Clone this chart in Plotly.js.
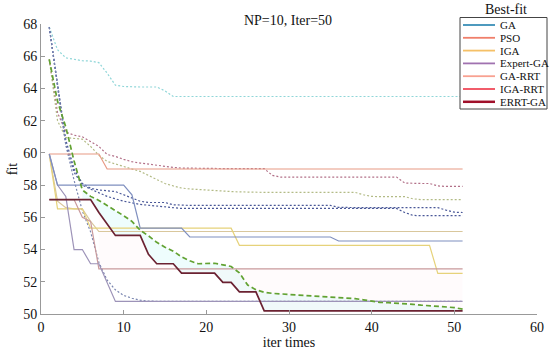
<!DOCTYPE html>
<html><head><meta charset="utf-8">
<script src="https://cdn.plot.ly/plotly-3.0.1.min.js"></script>
<style>html,body{margin:0;padding:0;background:#fff}#c{width:550px;height:350px}</style>
</head><body><div id="c"></div>
<script>
// ---- data ----
const iter = [1,2,3,4,5,6,7,8,9,10,11,12,13,14,15,16,17,18,19,20,21,22,23,24,25,26,27,28,29,30,31,32,33,34,35,36,37,38,39,40,41,42,43,44,45,46,47,48,49,50,51];

// dotted / dashed (mean) curves
const cyanMean = [67.81,66.4,65.9,65.8,65.72,65.7,65.6,64.95,64.2,64.12,64.09,64.09,64.09,64.09,63.85,63.5,63.5,63.5,63.5,63.5,63.5,63.5,63.5,63.5,63.5,63.5,63.5,63.5,63.5,63.5,63.5,63.5,63.5,63.5,63.5,63.5,63.5,63.5,63.5,63.5,63.5,63.5,63.5,63.5,63.5,63.5,63.5,63.5,63.5,63.5,63.5];
const roseMean = [65.8,62.5,61.3,61.1,61.0,60.7,60.4,59.9,59.78,59.6,59.45,59.37,59.3,59.22,59.15,59.1,59.06,59.05,59.02,59.02,59.02,59.02,59.02,59.02,59.02,59.02,59.02,58.6,58.5,58.5,58.5,58.5,58.5,58.5,58.5,58.5,58.5,58.5,58.5,58.5,58.5,58.5,58.5,58.13,58.1,58.1,58.1,57.95,57.92,57.92,57.92];
const oliveMean = [65.8,62.0,60.95,60.9,60.85,60.4,59.85,59.47,59.3,59.15,59.0,58.85,58.6,58.35,58.1,57.95,57.82,57.76,57.72,57.68,57.65,57.62,57.6,57.58,57.56,57.55,57.55,57.55,57.55,57.55,57.55,57.55,57.55,57.55,57.55,57.55,57.55,57.55,57.4,57.3,57.28,57.28,57.28,57.28,57.15,57.1,57.1,57.1,57.1,57.1,57.1];
const navyMeanA = [67.8,64.3,60.8,59.0,58.1,57.8,57.7,57.65,57.6,57.4,57.2,57.0,56.92,56.92,56.92,56.78,56.74,56.74,56.74,56.74,56.74,56.74,56.74,56.74,56.74,56.74,56.74,56.74,56.74,56.74,56.74,56.74,56.74,56.74,56.74,56.62,56.6,56.6,56.6,56.6,56.6,56.6,56.6,56.6,56.6,56.6,56.6,56.6,56.45,56.32,56.3];
const navyMeanB = [67.8,64.0,60.5,58.8,58.0,57.75,57.5,57.3,57.15,57.0,56.9,56.8,56.75,56.7,56.65,56.6,56.55,56.55,56.55,56.55,56.55,56.55,56.55,56.55,56.55,56.55,56.55,56.55,56.55,56.55,56.55,56.55,56.55,56.55,56.55,56.55,56.55,56.55,56.55,56.55,56.55,56.55,56.55,56.3,56.12,56.1,56.1,56.1,56.1,56.1,56.1];
const slateMean = [67.8,64.0,60.5,58.3,56.4,55.1,53.2,52.1,51.5,51.15,50.98,50.86,50.8,50.79,50.78,50.78,50.78,50.78,50.78,50.78,50.78,50.78,50.78,50.78,50.78,50.78,50.78,50.78,50.78,50.78,50.78,50.78,50.78,50.78,50.78,50.78,50.78,50.78,50.78,50.78,50.78,50.78,50.78,50.78,50.78,50.78,50.78,50.78,50.78,50.78,50.78];
const greenMean = [65.8,63.2,61.6,59.5,57.7,57.3,57.05,56.75,56.4,56.1,55.75,55.2,54.85,54.45,54.15,53.9,53.55,53.3,53.12,53.15,53.15,53.05,52.95,52.55,51.8,51.5,51.35,51.28,51.25,51.2,51.15,51.13,51.1,51.08,51.05,51.03,51.0,50.95,50.88,50.8,50.72,50.7,50.68,50.65,50.6,50.55,50.52,50.5,50.47,50.4,50.3];

// solid (best) curves
const salmonBest = [59.93,59.93,59.93,59.93,59.93,59.93,59.93,59.0,59.0,59.0,59.0,59.0,59.0,59.0,59.0,59.0,59.0,59.0,59.0,59.0,59.0,59.0,59.0,59.0,59.0,59.0,59.0,59.0,59.0,59.0,59.0,59.0,59.0,59.0,59.0,59.0,59.0,59.0,59.0,59.0,59.0,59.0,59.0,59.0,59.0,59.0,59.0,59.0,59.0,59.0,59.0];
const yellowBest = [59.9,56.53,56.53,56.53,56.53,55.33,55.33,55.33,55.33,55.33,55.33,55.33,55.33,55.33,55.33,55.33,55.33,55.33,55.33,55.33,55.33,55.33,55.33,54.26,54.26,54.26,54.26,54.26,54.26,54.26,54.26,54.26,54.26,54.26,54.26,54.26,54.26,54.26,54.26,54.26,54.26,54.26,54.26,54.26,54.26,54.26,54.26,52.52,52.52,52.52,52.52];
const tanBest = [59.9,57.0,56.6,56.53,56.53,55.75,55.12,55.12,55.12,55.12,55.12,55.12,55.12,55.12,55.12,55.12,55.12,55.12,55.12,55.12,55.12,55.12,55.12,55.12,55.12,55.12,55.12,55.12,55.12,55.12,55.12,55.12,55.12,55.12,55.12,55.12,55.12,55.12,55.12,55.12,55.12,55.12,55.12,55.12,55.12,55.12,55.12,55.12,55.12,55.12,55.12];
const roseBest = [57.1,57.1,57.1,57.1,56.0,55.75,52.8,52.8,52.8,52.8,52.8,52.8,52.8,52.8,52.8,52.8,52.8,52.8,52.8,52.8,52.8,52.8,52.8,52.8,52.8,52.8,52.8,52.8,52.8,52.8,52.8,52.8,52.8,52.8,52.8,52.8,52.8,52.8,52.8,52.8,52.8,52.8,52.8,52.8,52.8,52.8,52.8,52.8,52.8,52.8,52.8];
const lilacBest = [59.93,58.0,57.3,54.0,54.0,53.12,53.12,51.95,50.78,50.78,50.78,50.78,50.78,50.78,50.78,50.78,50.78,50.78,50.78,50.78,50.78,50.78,50.78,50.78,50.78,50.78,50.78,50.78,50.78,50.78,50.78,50.78,50.78,50.78,50.78,50.78,50.78,50.78,50.78,50.78,50.78,50.78,50.78,50.78,50.78,50.78,50.78,50.78,50.78,50.78,50.78];
const blueBest = [59.93,58.0,58.0,58.0,58.0,58.0,58.0,58.0,58.0,58.0,57.4,55.33,55.33,55.33,55.33,55.33,55.33,54.78,54.78,54.78,54.78,54.78,54.78,54.78,54.78,54.78,54.78,54.78,54.78,54.78,54.78,54.78,54.78,54.78,54.78,54.53,54.53,54.53,54.53,54.53,54.53,54.53,54.53,54.53,54.53,54.53,54.53,54.53,54.53,54.53,54.53];
const errtBest = [57.1,57.1,57.1,57.1,57.1,57.1,56.3,55.6,54.88,54.88,54.88,54.88,53.7,53.12,53.12,53.12,52.54,52.54,52.54,52.54,52.54,51.96,51.96,51.37,51.37,51.37,50.2,50.2,50.2,50.2,50.2,50.2,50.2,50.2,50.2,50.2,50.2,50.2,50.2,50.2,50.2,50.2,50.2,50.2,50.2,50.2,50.2,50.2,50.2,50.2,50.2];

// legend
const legendNames = ['GA','PSO','IGA','Expert-GA','GA-RRT','IGA-RRT','ERRT-GA'];
const legendColors = ['#3a8fb7','#f07f6a','#f5c067','#a072b0','#f8a191','#f04a5a','#a0102a'];

// ---- drawing ----
const serif = 'Liberation Serif, Times New Roman, serif';
function tr(xs, y, color, width, dash, extra){
  return Object.assign({x: xs, y: y, type:'scatter', mode:'lines', showlegend:false, hoverinfo:'skip',
    line:{color:color, width:width, dash:dash||'solid'}}, extra||{});
}
const s = 4; // shading begins at iteration 5
const dots = '2px,2px';
const traces = [
  tr(iter.slice(s), errtBest.slice(s), 'rgba(0,0,0,0)', 0),
  tr(iter.slice(s), greenMean.slice(s), 'rgba(0,0,0,0)', 0, 'solid', {fill:'tonexty', fillcolor:'rgba(205,250,250,0.35)'}),
  tr(iter.slice(6), roseBest.slice(6), 'rgba(0,0,0,0)', 0),
  tr(iter.slice(6), errtBest.slice(6), 'rgba(0,0,0,0)', 0, 'solid', {fill:'tonexty', fillcolor:'rgba(255,225,235,0.15)'}),
  tr(iter, cyanMean, '#8fd6d8', 1.2, dots),
  tr(iter, roseMean, '#b27088', 1.2, dots),
  tr(iter, oliveMean, '#b3bb86', 1.2, dots),
  tr(iter, navyMeanA, '#4a5898', 1.2, dots),
  tr(iter, navyMeanB, '#4a5898', 1.2, dots),
  tr(iter, slateMean, '#7a86b0', 1.2, dots),
  tr(iter, salmonBest, '#e89a84', 1.2),
  tr(iter, tanBest, '#d9c79c', 1.2),
  tr(iter, yellowBest, '#e6d27a', 1.2),
  tr(iter, roseBest, '#c99a9c', 1.2),
  tr(iter, lilacBest, '#9d93b8', 1.2),
  tr(iter, blueBest, '#7f8fbf', 1.2),
  tr(iter, greenMean, '#62a232', 1.7, '5px,3px'),
  tr(iter, errtBest, '#6b2232', 1.7)
];

// plot area in pixels
const L = 41, R = 537, T = 24, B = 314;
const px = v => (v - L) / (R - L);
const py = v => (B - v) / (B - T);

const shapes = [{type:'rect', xref:'paper', yref:'paper', x0:px(460), x1:px(547), y0:py(109), y1:py(17.5),
  line:{color:'#444', width:1}, fillcolor:'#fff', layer:'above'}];
const annotations = [{text:'Best-fit', xref:'paper', yref:'paper', x:px(506), y:py(9), xanchor:'center', yanchor:'middle',
  showarrow:false, font:{family:serif, size:14, color:'#111'}}];
legendNames.forEach((n,i)=>{
  const yy = 25 + i*12.8;
  shapes.push({type:'line', xref:'paper', yref:'paper', x0:px(463), x1:px(495), y0:py(yy), y1:py(yy),
    line:{color:legendColors[i], width: i===6 ? 2.5 : 1.8}, layer:'above'});
  annotations.push({text:n, xref:'paper', yref:'paper', x:px(498), y:py(yy), xanchor:'left', yanchor:'middle',
    showarrow:false, font:{family:serif, size:11, color:'#111'}});
});

const layout = {
  width:550, height:350, paper_bgcolor:'#fff', plot_bgcolor:'#fff',
  margin:{l:L, r:550-R, t:T, b:350-B, pad:0},
  title:{text:'NP=10, Iter=50', font:{family:serif, size:14, color:'#111'}, x:288/550, xanchor:'center', y:1-20/350, yanchor:'middle'},
  xaxis:{range:[0,60], dtick:10, showline:true, linecolor:'#999', linewidth:1, ticks:'inside', ticklen:4, tickcolor:'#999',
    showgrid:false, zeroline:false, tickfont:{family:serif, size:14, color:'#111'},
    title:{text:'iter times', font:{family:serif, size:14, color:'#111'}, standoff:0}},
  yaxis:{range:[50,68], dtick:2, showline:true, linecolor:'#999', linewidth:1, ticks:'inside', ticklen:4, tickcolor:'#999',
    showgrid:false, zeroline:false, tickfont:{family:serif, size:14, color:'#111'},
    title:{text:'fit', font:{family:serif, size:14, color:'#111'}, standoff:2}},
  shapes:shapes, annotations:annotations, showlegend:false
};
Plotly.newPlot('c', traces, layout, {displayModeBar:false, staticPlot:true});
</script></body></html>
